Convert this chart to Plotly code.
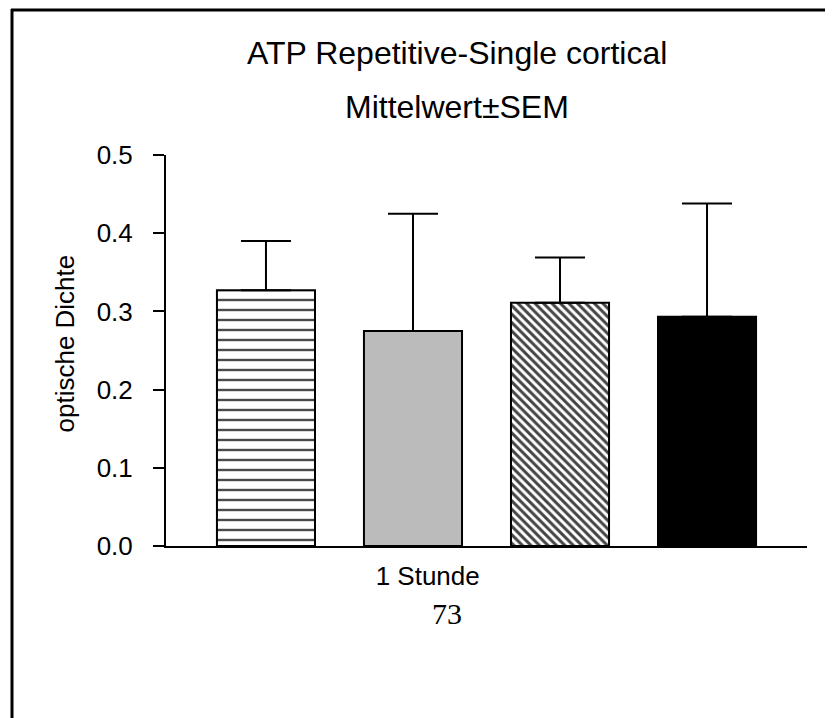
import plotly.graph_objects as go

# ---- data ----
series = ["Gruppe 1", "Gruppe 2", "Gruppe 3", "Gruppe 4"]
bar_pos = [0, 1, 2, 3]
means = [0.327, 0.275, 0.311, 0.293]
sem = [0.063, 0.150, 0.058, 0.145]
group_label = ["1 Stunde"]
group_pos = [1.1]
y_tickvals = [0.0, 0.1, 0.2, 0.3, 0.4, 0.5]
y_ticktext = ["0.0", "0.1", "0.2", "0.3", "0.4", "0.5"]

# ---- styles ----
fill_colors = ["white", "#bbbbbb", "white", "black"]
pat_shapes = ["-", "", "\\", ""]
pat_fg = ["#4a4a4a", "#bbbbbb", "#444444", "black"]
pat_size = [10, 8, 6, 8]
pat_sol = [0.24, 0.3, 0.5, 0.3]

# page body has an 8px margin: work in reference-pixel coords, shift by 8
OFF = 8
W, H = 833 - OFF, 718 - OFF
L, R, T, B = 166 - OFF, 26, 155 - OFF, 172
pw, ph = W - L - R, H - T - B

def px(x):
    return (x - OFF - L) / pw

def py(y):
    return (H - B - (y - OFF)) / ph

fig = go.Figure()
for i in range(len(series)):
    pattern = dict(shape=pat_shapes[i], fgcolor=pat_fg[i], bgcolor=fill_colors[i],
                   size=pat_size[i], solidity=pat_sol[i], fillmode="replace")
    fig.add_trace(go.Bar(
        x=[bar_pos[i]], y=[means[i]], width=0.667, name=series[i],
        marker=dict(color=fill_colors[i], line=dict(color="black", width=2),
                    pattern=pattern),
        error_y=dict(type="data", array=[sem[i]], arrayminus=[0],
                     symmetric=False, color="black", thickness=2, width=25),
        showlegend=False,
    ))

font = "Arial, Liberation Sans, sans-serif"

fig.update_layout(
    width=W, height=H, barmode="overlay",
    margin=dict(l=L, r=R, t=T, b=B, pad=0),
    paper_bgcolor="white", plot_bgcolor="white",
    font=dict(family=font, size=26, color="black"),
    xaxis=dict(range=[-0.68, 3.68], showgrid=False, zeroline=False,
               showline=True, linecolor="black", linewidth=2,
               tickmode="array", tickvals=group_pos, ticktext=group_label,
               ticks="", ticklabelstandoff=6,
               tickfont=dict(size=26, family=font)),
    yaxis=dict(range=[0, 0.5], showgrid=False, zeroline=False,
               showline=True, linecolor="black", linewidth=2,
               tickmode="array", tickvals=y_tickvals, ticktext=y_ticktext,
               ticks="outside", ticklen=11, tickwidth=2, tickcolor="black",
               ticklabelstandoff=15,
               tickfont=dict(size=26, family=font)),
    annotations=[
        dict(text="ATP Repetitive-Single cortical", x=px(456.5), y=py(53.5),
             xref="paper", yref="paper", xanchor="center", yanchor="middle",
             showarrow=False, font=dict(size=32, family=font)),
        dict(text="Mittelwert±SEM", x=px(456.5), y=py(107),
             xref="paper", yref="paper", xanchor="center", yanchor="middle",
             showarrow=False, font=dict(size=32, family=font)),
        dict(text="optische Dichte", x=px(64), y=py(343.5), textangle=-90,
             xref="paper", yref="paper", xanchor="center", yanchor="middle",
             showarrow=False, font=dict(size=26, family=font)),
        dict(text="73", x=px(446.7), y=py(613.5),
             xref="paper", yref="paper", xanchor="center", yanchor="middle",
             showarrow=False,
             font=dict(size=30, family="Times New Roman, Liberation Serif, serif")),
    ],
    shapes=[
        dict(type="line", xref="paper", yref="paper",
             x0=px(11), x1=px(845), y0=py(10), y1=py(10),
             line=dict(color="black", width=3)),
        dict(type="line", xref="paper", yref="paper",
             x0=px(12), x1=px(12), y0=py(9), y1=py(730),
             line=dict(color="black", width=3)),
    ],
)

fig.write_html("out.html")
